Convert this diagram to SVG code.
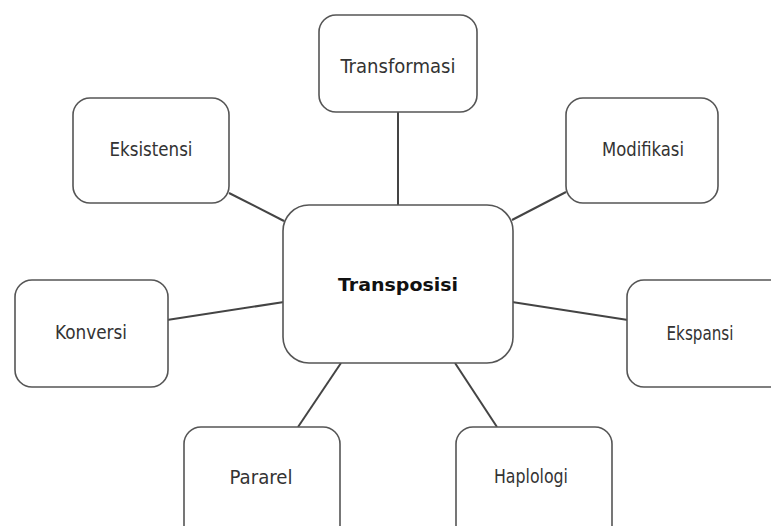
<svg xmlns="http://www.w3.org/2000/svg" width="771" height="526" viewBox="0 0 771 526">
<style>
.box{fill:#fff;stroke:#555;stroke-width:1.6}
.lbl{font-family:"Liberation Sans Narrow","DejaVu Sans Condensed","Liberation Sans",sans-serif;font-size:19px;fill:#333;text-anchor:middle}
.main{font-family:"DejaVu Sans","Liberation Sans",sans-serif;font-weight:bold;font-size:17px;fill:#111;text-anchor:middle}
.con{stroke:#444;stroke-width:2;fill:none}
</style>
<rect width="771" height="526" fill="#fff"/>
<g id="connectors">
<line class="con" x1="398" y1="112" x2="398" y2="205"/>
<line class="con" x1="229" y1="193" x2="284" y2="221"/>
<line class="con" x1="566" y1="192" x2="512" y2="220"/>
<line class="con" x1="167" y1="320" x2="284" y2="302"/>
<line class="con" x1="512" y1="302" x2="628" y2="320"/>
<line class="con" x1="298" y1="427" x2="341" y2="363"/>
<line class="con" x1="497" y1="427" x2="455" y2="363"/>
</g>
<g id="transposisi">
<rect class="box" x="283" y="205" width="230" height="158" rx="26"/>
<text class="main" x="398" y="291" textLength="120" lengthAdjust="spacingAndGlyphs">Transposisi</text>
</g>
<g id="transformasi">
<rect class="box" x="319" y="15" width="158" height="97" rx="17"/>
<text class="lbl" x="398" y="73" textLength="115" lengthAdjust="spacingAndGlyphs">Transformasi</text>
</g>
<g id="eksistensi">
<rect class="box" x="73" y="98" width="156" height="105" rx="17"/>
<text class="lbl" x="151" y="156" textLength="83" lengthAdjust="spacingAndGlyphs">Eksistensi</text>
</g>
<g id="modifikasi">
<rect class="box" x="566" y="98" width="152" height="105" rx="17"/>
<text class="lbl" x="643" y="156" textLength="82" lengthAdjust="spacingAndGlyphs">Modifikasi</text>
</g>
<g id="konversi">
<rect class="box" x="15" y="280" width="153" height="107" rx="17"/>
<text class="lbl" x="91" y="339" textLength="72" lengthAdjust="spacingAndGlyphs">Konversi</text>
</g>
<g id="ekspansi">
<rect class="box" x="627" y="280" width="160" height="107" rx="17"/>
<text class="lbl" x="700" y="340" textLength="67" lengthAdjust="spacingAndGlyphs">Ekspansi</text>
</g>
<g id="pararel">
<rect class="box" x="184" y="427" width="156" height="120" rx="17"/>
<text class="lbl" x="261" y="484" textLength="63" lengthAdjust="spacingAndGlyphs">Pararel</text>
</g>
<g id="haplologi">
<rect class="box" x="456" y="427" width="156" height="120" rx="17"/>
<text class="lbl" x="531" y="483" textLength="74" lengthAdjust="spacingAndGlyphs">Haplologi</text>
</g>
</svg>
